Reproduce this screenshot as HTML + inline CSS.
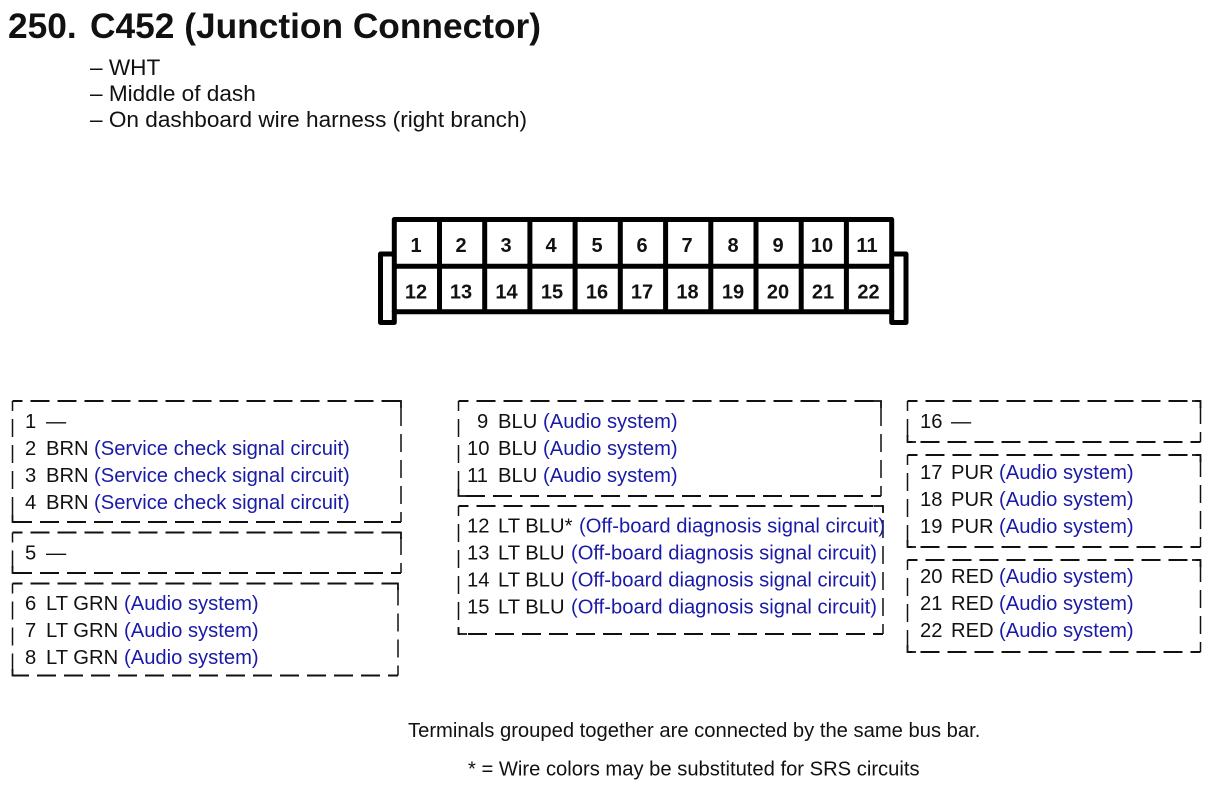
<!DOCTYPE html>
<html>
<head>
<meta charset="utf-8">
<style>
html,body{margin:0;padding:0;background:#fff;width:1214px;height:790px;overflow:hidden}
svg{display:block;filter:blur(0.35px)}
text{font-family:"Liberation Sans",Arial,sans-serif;font-size:20.2px;fill:#111}
.b{fill:#1a1aa8}
.n{font-weight:bold;text-anchor:middle;font-size:20px}
.d{fill:none;stroke:#111;stroke-width:2;stroke-dasharray:19 8;stroke-dashoffset:9}
.v{fill:none;stroke:#111;stroke-width:1.5;stroke-dasharray:18 8;stroke-dashoffset:8}
.s{fill:none;stroke:#111;stroke-width:1.8}
.c{fill:none;stroke:#000;stroke-width:5;stroke-linejoin:round}
</style>
</head>
<body>
<svg width="1214" height="790" viewBox="0 0 1214 790" xmlns="http://www.w3.org/2000/svg">
<text x="8" y="38" style="font-size:35.3px;font-weight:bold">250.</text>
<text x="90" y="38" style="font-size:35.3px;font-weight:bold">C452 (Junction Connector)</text>
<text x="90" y="75" style="font-size:22.6px">– WHT</text>
<text x="90" y="101" style="font-size:22.6px">– Middle of dash</text>
<text x="90" y="127" style="font-size:22.6px">– On dashboard wire harness (right branch)</text>

<!-- connector -->
<g class="c">
<rect x="394.3" y="219.5" width="497.4" height="92.2"/>
<line x1="394.3" y1="266.3" x2="891.7" y2="266.3"/>
<line x1="439.5" y1="219.5" x2="439.5" y2="311.7"/>
<line x1="484.7" y1="219.5" x2="484.7" y2="311.7"/>
<line x1="529.9" y1="219.5" x2="529.9" y2="311.7"/>
<line x1="575.1" y1="219.5" x2="575.1" y2="311.7"/>
<line x1="620.3" y1="219.5" x2="620.3" y2="311.7"/>
<line x1="665.6" y1="219.5" x2="665.6" y2="311.7"/>
<line x1="710.8" y1="219.5" x2="710.8" y2="311.7"/>
<line x1="756" y1="219.5" x2="756" y2="311.7"/>
<line x1="801.2" y1="219.5" x2="801.2" y2="311.7"/>
<line x1="846.4" y1="219.5" x2="846.4" y2="311.7"/>
<path d="M394.3 254H380.500V322.500H394.3V311"/>
<path d="M891.7 254H906V322.500H891.7V311"/>
</g>
<g>
<text class="n" x="416" y="252">1</text><text class="n" x="461" y="252">2</text><text class="n" x="506" y="252">3</text><text class="n" x="551" y="252">4</text><text class="n" x="597" y="252">5</text><text class="n" x="642" y="252">6</text><text class="n" x="687" y="252">7</text><text class="n" x="733" y="252">8</text><text class="n" x="778" y="252">9</text><text class="n" x="822" y="252">10</text><text class="n" x="867" y="252">11</text>
<text class="n" x="416" y="298.5">12</text><text class="n" x="461" y="298.5">13</text><text class="n" x="506.500" y="298.5">14</text><text class="n" x="552" y="298.5">15</text><text class="n" x="597" y="298.5">16</text><text class="n" x="642" y="298.5">17</text><text class="n" x="687.500" y="298.5">18</text><text class="n" x="733" y="298.5">19</text><text class="n" x="778" y="298.5">20</text><text class="n" x="823" y="298.5">21</text><text class="n" x="868.500" y="298.5">22</text>
</g>

<!-- dashed boxes: horizontal sides -->
<path class="d" d="M12.500 401H401M401 522H12.500
M12.500 532.500H401M401 573H12.500
M12.500 583.500H398M398 675.500H12.500
M458.500 401H881M881 496H458.500
M458.500 506H883M883 634H458.500
M907.500 401H1200.500M1200.500 442H907.500
M907.500 455H1200.500M1200.500 547H907.500
M907.500 560H1200.500M1200.500 652H907.500"/>
<!-- dashed boxes: vertical sides -->
<path class="v" d="M12.500 401V522M401 522V401
M12.500 532.500V573M401 573V532.500
M12.500 583.500V675.500M398 675.500V583.500
M458.500 401V496M881 496V401
M458.500 506V634M883 634V506
M907.500 401V442M1200.500 442V401
M907.500 455V547M1200.500 547V455
M907.500 560V652M1200.500 652V560"/>
<path class="s" d="M392 401H401V408M12.500 515V522H21
M392 532.500H401V539M12.500 566V573H21
M389 583.500H398V590M12.500 669V675.500H21
M872 401H881V408M458.500 489V496H467
M874 506H883V513M458.500 627V634H467
M1192 401H1200.500V408M907.500 435V442H916
M1192 455H1200.500V462M907.500 540V547H916
M1192 560H1200.500V567M907.500 645V652H916"/>

<!-- left -->
<text x="25" y="428">1</text><text x="46" y="428">—</text>
<text x="25" y="455">2</text><text x="46" y="455">BRN</text><text class="b" x="94" y="455">(Service check signal circuit)</text>
<text x="25" y="482">3</text><text x="46" y="482">BRN</text><text class="b" x="94" y="482">(Service check signal circuit)</text>
<text x="25" y="509">4</text><text x="46" y="509">BRN</text><text class="b" x="94" y="509">(Service check signal circuit)</text>
<text x="25" y="559.500">5</text><text x="46" y="559.500">—</text>
<text x="25" y="610">6</text><text x="46" y="610">LT GRN</text><text class="b" x="124" y="610">(Audio system)</text>
<text x="25" y="637">7</text><text x="46" y="637">LT GRN</text><text class="b" x="124" y="637">(Audio system)</text>
<text x="25" y="664">8</text><text x="46" y="664">LT GRN</text><text class="b" x="124" y="664">(Audio system)</text>

<!-- middle -->
<text x="477" y="428">9</text><text x="498" y="428">BLU</text><text class="b" x="543" y="428">(Audio system)</text>
<text x="467" y="455">10</text><text x="498" y="455">BLU</text><text class="b" x="543" y="455">(Audio system)</text>
<text x="467" y="482">11</text><text x="498" y="482">BLU</text><text class="b" x="543" y="482">(Audio system)</text>
<text x="467" y="532.500">12</text><text x="498" y="532.500">LT BLU*</text><text class="b" x="579" y="532.500">(Off-board diagnosis signal circuit)</text>
<text x="467" y="559.500">13</text><text x="498" y="559.500">LT BLU</text><text class="b" x="571" y="559.500">(Off-board diagnosis signal circuit)</text>
<text x="467" y="586.500">14</text><text x="498" y="586.500">LT BLU</text><text class="b" x="571" y="586.500">(Off-board diagnosis signal circuit)</text>
<text x="467" y="613.500">15</text><text x="498" y="613.500">LT BLU</text><text class="b" x="571" y="613.500">(Off-board diagnosis signal circuit)</text>

<!-- right -->
<text x="920" y="428">16</text><text x="951" y="428">—</text>
<text x="920" y="479">17</text><text x="951" y="479">PUR</text><text class="b" x="999" y="479">(Audio system)</text>
<text x="920" y="506">18</text><text x="951" y="506">PUR</text><text class="b" x="999" y="506">(Audio system)</text>
<text x="920" y="533">19</text><text x="951" y="533">PUR</text><text class="b" x="999" y="533">(Audio system)</text>
<text x="920" y="583">20</text><text x="951" y="583">RED</text><text class="b" x="999" y="583">(Audio system)</text>
<text x="920" y="610">21</text><text x="951" y="610">RED</text><text class="b" x="999" y="610">(Audio system)</text>
<text x="920" y="637">22</text><text x="951" y="637">RED</text><text class="b" x="999" y="637">(Audio system)</text>

<text x="408" y="737">Terminals grouped together are connected by the same bus bar.</text>
<text x="468" y="775.500">* = Wire colors may be substituted for SRS circuits</text>
</svg>
</body>
</html>
